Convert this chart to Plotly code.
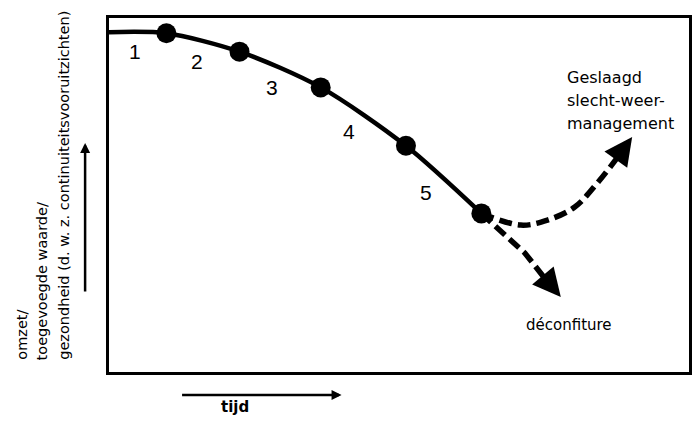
import plotly.graph_objects as go

# ---- data (time axis 0-100, value axis 0-100) ----
phase_t = [0, 9.9, 22.5, 36.5, 51.2, 64.2]
phase_v = [96.0, 95.7, 90.5, 80.4, 63.9, 44.8]
phase_labels = ["1", "2", "3", "4", "5"]

recovery_t = [64.2, 71.0, 75.6, 80.3, 84.2, 87.7, 90.2]
recovery_v = [44.8, 41.5, 42.9, 46.6, 53.4, 60.7, 66.4]

failure_t = [64.2, 71.7, 77.9]
failure_v = [44.8, 33.6, 21.2]

y_title_lines = ["omzet/", "toegevoegde waarde/", "gezondheid (d. w. z. continuiteitsvooruitzichten)"]
x_title = "tijd"
recovery_lines = ["Geslaagd", "slecht-weer-", "management"]
failure_text = "déconfiture"

FONT = "DejaVu Sans"

fig = go.Figure()

# main curve
fig.add_trace(go.Scatter(x=phase_t, y=phase_v, mode="lines",
                         line=dict(color="black", width=4.5, shape="spline", smoothing=0.8),
                         hoverinfo="skip"))
fig.add_trace(go.Scatter(x=phase_t[1:], y=phase_v[1:], mode="markers",
                         marker=dict(color="black", size=20),
                         hoverinfo="skip"))
# dashed branches
fig.add_trace(go.Scatter(x=recovery_t, y=recovery_v, mode="lines",
                         line=dict(color="black", width=5.5, dash="13px,6px", shape="spline"),
                         hoverinfo="skip"))
fig.add_trace(go.Scatter(x=failure_t[:-1] + [75.6], y=failure_v[:-1] + [25.5], mode="lines",
                         line=dict(color="black", width=5.5, dash="13px,6px"),
                         hoverinfo="skip"))

ann = []
# arrow heads of branches
ann.append(dict(x=recovery_t[-1], y=recovery_v[-1], ax=recovery_t[-2], ay=recovery_v[-2],
                xref="x", yref="y", axref="x", ayref="y", text="", showarrow=True,
                arrowhead=2, arrowsize=1.4, arrowwidth=4, arrowcolor="black", standoff=0))
ann.append(dict(x=failure_t[-1], y=failure_v[-1], ax=75.1, ay=26.7,
                xref="x", yref="y", axref="x", ayref="y", text="", showarrow=True,
                arrowhead=2, arrowsize=1.4, arrowwidth=4, arrowcolor="black", standoff=0))

# phase number labels
label_pos = [(4.5, 90.4), (15.1, 87.6), (28.1, 80.5), (41.3, 67.8), (54.7, 50.6)]
for lab, (lx, ly) in zip(phase_labels, label_pos):
    ann.append(dict(x=lx, y=ly, xref="x", yref="y", text=lab, showarrow=False,
                    font=dict(family="Liberation Sans", size=21, color="black")))

# right texts
for yp, line in zip([0.833, 0.768, 0.703], recovery_lines):
    ann.append(dict(x=0.786, y=yp, xref="paper", yref="paper", text=line,
                    showarrow=False, xanchor="left", yanchor="middle",
                    font=dict(family=FONT, size=16, color="black")))
ann.append(dict(x=0.715, y=0.133, xref="paper", yref="paper", text=failure_text,
                showarrow=False, xanchor="left", yanchor="middle",
                font=dict(family=FONT, size=15, color="black")))

# axis arrows
ann.append(dict(x=-0.0412, y=0.647, xref="paper", yref="paper", ax=0, ay=150,
                text="", showarrow=True, arrowhead=2, arrowsize=0.8, arrowwidth=2.5,
                arrowcolor="black", standoff=0))
ann.append(dict(x=0.401, y=-0.065, xref="paper", yref="paper", ax=-161, ay=0,
                text="", showarrow=True, arrowhead=2, arrowsize=0.8, arrowwidth=2.5,
                arrowcolor="black", standoff=0))

# axis titles
ann.append(dict(x=0.190, y=-0.130, xref="paper", yref="paper", text="<b>" + x_title + "</b>",
                showarrow=False, font=dict(family=FONT, size=15, color="black")))
for xp, line in zip([-0.149, -0.115, -0.079], y_title_lines):
    ann.append(dict(x=xp, y=0.028, xref="paper", yref="paper", text=line, textangle=-90,
                    showarrow=False, xanchor="center", yanchor="bottom",
                    font=dict(family=FONT, size=14.5, color="black")))

axis_style = dict(range=[0, 100], showline=True, mirror=True, linecolor="black", linewidth=2.5,
                  showticklabels=False, ticks="", showgrid=False, zeroline=False)

fig.update_layout(
    width=699, height=430,
    margin=dict(l=109, r=7, t=18, b=58),
    paper_bgcolor="white", plot_bgcolor="white",
    showlegend=False,
    xaxis=axis_style, yaxis=axis_style,
    annotations=ann,
)

fig.write_html("out.html", config={"displayModeBar": False},
               post_script="document.body.style.margin='0';document.body.style.overflow='hidden';")
